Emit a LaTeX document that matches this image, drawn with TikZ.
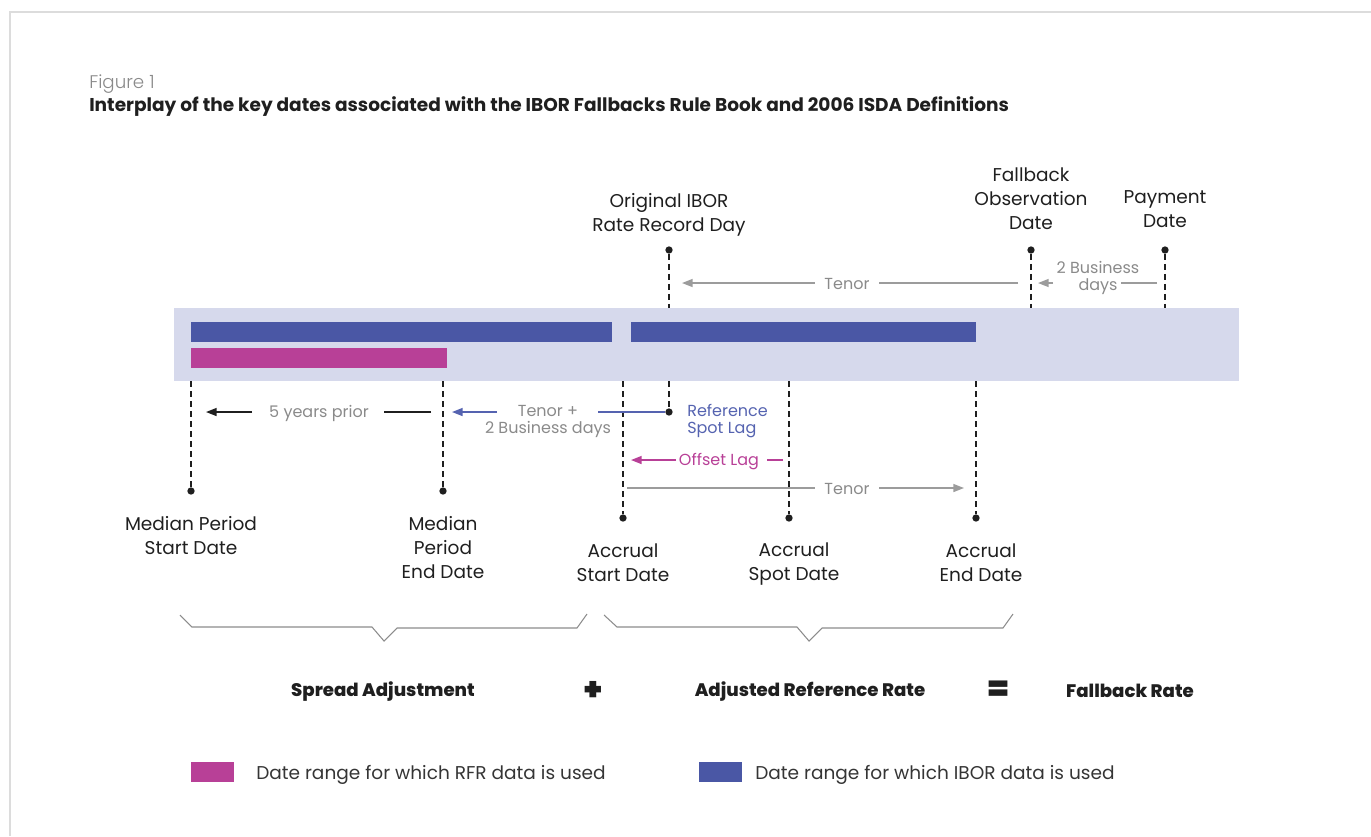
\documentclass[tikz,border=0pt]{standalone}
\usepackage{fontspec}
\setmainfont{Poppins}
\newfontfamily\heavyfont{Poppins ExtraBold}
\newfontfamily\blackfont{Poppins Black}
\newfontfamily\lightfont{Poppins Light}
\usetikzlibrary{arrows.meta}

\definecolor{band}{HTML}{D6D9EC}
\definecolor{ibor}{HTML}{4A57A5}
\definecolor{iborline}{HTML}{5563B0}
\definecolor{rfr}{HTML}{B84097}
\definecolor{txtgray}{HTML}{8A8A8A}
\definecolor{arrgray}{HTML}{9C9C9C}
\definecolor{ink}{HTML}{1F1F1F}
\definecolor{framegray}{HTML}{DCDCDC}
\definecolor{bracegray}{HTML}{8C8C8C}

\begin{document}
\begin{tikzpicture}[x=0.75pt,y=-0.75pt,
  datelabel/.style={align=center, font=\fontsize{13.9}{18}\selectfont, text=ink, inner sep=0pt},
  smalllabel/.style={align=center, font=\fontsize{12}{12.75}\selectfont, text=txtgray, inner sep=0pt},
  gaplabel/.style={smalllabel, inner xsep=7pt},
  sumlabel/.style={font=\heavyfont\fontsize{13.6}{15}\selectfont, text=ink, inner sep=0pt},
  opsign/.style={font=\blackfont\fontsize{24}{24}\selectfont, text=ink, inner sep=0pt},
  legendtext/.style={anchor=west, font=\fontsize{13.9}{15}\selectfont, text=ink!90, inner sep=0pt},
  legendbox/.style={minimum width=32.25pt, minimum height=15pt, inner sep=0pt},
  dot/.style={circle, fill=ink, inner sep=0pt, minimum size=5.5pt},
  guide/.style={draw=ink, dash pattern=on 4.5pt off 3pt, line width=1pt},
  tipstyle/.style={-{Triangle[length=8pt,width=6pt]}},
  grayline/.style={draw=arrgray, line width=1.1pt},
  grayarrow/.style={grayline, tipstyle},
  darkline/.style={draw=ink, line width=1.1pt},
  darkarrow/.style={darkline, tipstyle},
  blueline/.style={draw=iborline, line width=1.1pt},
  bluearrow/.style={blueline, tipstyle},
  magline/.style={draw=rfr, line width=1.1pt},
  magarrow/.style={magline, tipstyle},
  brace/.style={draw=bracegray, line width=0.8pt, line join=miter}
]
\useasboundingbox (0,0) rectangle (1371,836);

% outer frame, open towards the right and bottom
\draw[framegray, line width=1.5pt] (10,836) -- (10,12) -- (1371,12);

% heading
\node[anchor=west, inner sep=0pt, font=\lightfont\fontsize{13.7}{15}\selectfont, text=txtgray] (fignum) at (89,84) {Figure 1};
\node[anchor=west, inner sep=0pt, font=\bfseries\fontsize{13.9}{15}\selectfont, text=ink] (title) at (89,107)
  {Interplay of the key dates associated with the IBOR Fallbacks Rule Book and 2006 ISDA Definitions};

% timeline band with data ranges
\fill[band] (174,308) rectangle (1239,381);
\fill[ibor] (191,322) rectangle (612,342);
\fill[ibor] (631,322) rectangle (976,342);
\fill[rfr] (191,348) rectangle (447,368);

% band edges where the date guides meet
\coordinate (b-mps) at (191,381);
\coordinate (b-mpe) at (443,381);
\coordinate (b-as)  at (623,381);
\coordinate (b-ib)  at (669,381);
\coordinate (b-asp) at (789,381);
\coordinate (b-ae)  at (976,381);
\coordinate (t-ib)  at (669,308);
\coordinate (t-fo)  at (1031,308);
\coordinate (t-pd)  at (1165,308);

% date markers
\node[dot] (d-mps) at (191,491) {};
\node[dot] (d-mpe) at (443,491) {};
\node[dot] (d-as)  at (623,518) {};
\node[dot] (d-ibl) at (669,412) {};
\node[dot] (d-asp) at (789,518) {};
\node[dot] (d-ae)  at (976,518) {};
\node[dot] (d-ib)  at (669,250) {};
\node[dot] (d-fo)  at (1031,250) {};
\node[dot] (d-pd)  at (1165,250) {};

% dashed guides
\draw[guide] (b-mps) -- (d-mps);
\draw[guide] (b-mpe) -- (d-mpe);
\draw[guide] (b-as)  -- (d-as);
\draw[guide] (b-ib)  -- (d-ibl);
\draw[guide] (b-asp) -- (d-asp);
\draw[guide] (b-ae)  -- (d-ae);
\draw[guide] (d-ib)  -- (t-ib);
\draw[guide] (d-fo)  -- (t-fo);
\draw[guide] (d-pd)  -- (t-pd);

% date names
\node[datelabel] (l-ib) at (669,214.5) {Original IBOR\\Rate Record Day};
\node[datelabel] (l-fo) at (1031,198.5) {Fallback\\Observation\\Date};
\node[datelabel] (l-pd) at (1165,209) {Payment\\Date};
\node[datelabel] (l-mps) at (191,536) {Median Period\\Start Date};
\node[datelabel] (l-mpe) at (443,548) {Median\\Period\\End Date};
\node[datelabel] (l-as)  at (623,563) {Accrual\\Start Date};
\node[datelabel] (l-asp) at (794,564) {Accrual\\Spot Date};
\node[datelabel] (l-ae)  at (981,563) {Accrual\\End Date};

% tenor back from the fallback observation date
\node[gaplabel] (tenor-top) at (847,284) {Tenor};
\coordinate (tt-end) at (1018,283);
\coordinate (tt-tip) at (682,283);
\draw[grayline] (tt-end) -- (tt-end -| tenor-top.east);
\draw[grayarrow] (tt-tip -| tenor-top.west) -- (tt-tip);

% two business days before payment
\node[smalllabel] (bd-top) at (1098,277.5) {2 Business\\days};
\coordinate (bd-a) at (1157,283);
\coordinate (bd-b) at (1121,283);
\coordinate (bd-c) at (1053,283);
\coordinate (bd-d) at (1038,283);
\draw[grayline] (bd-a) -- (bd-b);
\draw[grayarrow] (bd-c) -- (bd-d);

% five years prior
\node[smalllabel] (fy) at (319,413.5) {5 years prior};
\coordinate (fy-a) at (431,412);
\coordinate (fy-b) at (384,412);
\coordinate (fy-c) at (252,412);
\coordinate (fy-d) at (206,412);
\draw[darkline] (fy-a) -- (fy-b);
\draw[darkarrow] (fy-c) -- (fy-d);

% tenor plus two business days
\node[smalllabel] (tp) at (548,421.5) {Tenor +\\2 Business days};
\coordinate (tp-b) at (598,412);
\coordinate (tp-c) at (497,412);
\coordinate (tp-d) at (452,412);
\draw[blueline] (d-ibl) -- (tp-b);
\draw[bluearrow] (tp-c) -- (tp-d);
\node[smalllabel, text=iborline, align=left, anchor=west] (rsl) at (687,421.5) {Reference\\Spot Lag};

% offset lag
\node[smalllabel, text=rfr] (ol) at (719,461.5) {Offset Lag};
\coordinate (ol-a) at (783,460);
\coordinate (ol-b) at (767,460);
\coordinate (ol-c) at (676,460);
\coordinate (ol-d) at (631,460);
\draw[magline] (ol-a) -- (ol-b);
\draw[magarrow] (ol-c) -- (ol-d);

% tenor forward from accrual start
\node[gaplabel] (tenor-low) at (847,489) {Tenor};
\coordinate (tl-start) at (627,488);
\coordinate (tl-tip) at (964,488);
\draw[grayline] (tl-start) -- (tl-start -| tenor-low.west);
\draw[grayarrow] (tl-tip -| tenor-low.east) -- (tl-tip);

% grouping braces
\draw[brace] (180,615) -- (192,627) -- (372,627) -- (384,641) -- (397,628) -- (577,628) -- (587,614);
\draw[brace] (604,615) -- (617,627) -- (797,627) -- (809,641) -- (822,628) -- (1003,628) -- (1013,614);

% the sum
\node[sumlabel] (s-sa) at (383,691.5) {Spread Adjustment};
\node[opsign] (s-plus) at (593,690.5) {+};
\node[sumlabel] (s-arr) at (810,691.5) {Adjusted Reference Rate};
\node[opsign] (s-eq) at (999,690) {=};
\node[sumlabel] (s-fr) at (1130,690.5) {Fallback Rate};

% legend
\node[legendbox, fill=rfr] (k-rfr) at (212.5,772) {};
\node[legendtext] (k-rfr-t) at (256,775) {Date range for which RFR data is used};
\node[legendbox, fill=ibor] (k-ibor) at (720.5,772) {};
\node[legendtext] (k-ibor-t) at (755,775) {Date range for which IBOR data is used};
\end{tikzpicture}
\end{document}
